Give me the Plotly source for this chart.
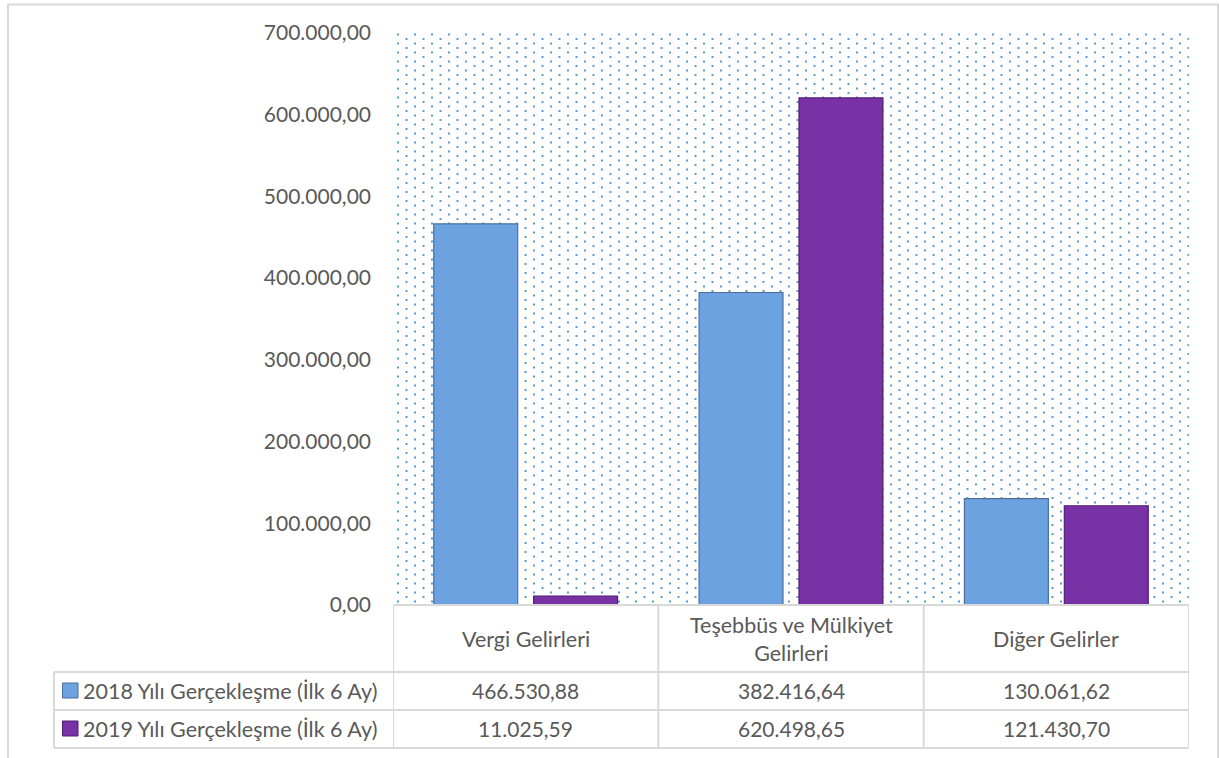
import plotly.graph_objects as go
import base64

# ---------------- data ----------------
categories = ["Vergi Gelirleri", "Teşebbüs ve Mülkiyet Gelirleri", "Diğer Gelirler"]
category_labels = ["Vergi Gelirleri", "Teşebbüs ve Mülkiyet<br>Gelirleri", "Diğer Gelirler"]
series_names = ["2018 Yılı Gerçekleşme (İlk 6 Ay)", "2019 Yılı Gerçekleşme (İlk 6 Ay)"]
values_2018 = [466530.88, 382416.64, 130061.62]
values_2019 = [11025.59, 620498.65, 121430.70]
y_ticks = [0, 100000, 200000, 300000, 400000, 500000, 600000, 700000]

# ---------------- styling ----------------
W, H = 1219, 758
L, R, T, B = 393, 30, 33, 153
PW, PH = W - L - R, H - T - B
FONT = "Lato"
TXT = "#595959"
GRID = "#d9d9d9"
colors = ["#6ca2df", "#7832a6"]
lines = ["#4a6f9c", "#4f1f70"]


def tr(v):
    s = f"{v:,.2f}"
    return s.replace(",", "#").replace(".", ",").replace("#", ".")


def px(x):
    return (x - L) / PW


def py(y):
    return (H - B - y) / PH


# dotted background pattern as svg
svg = (
    f'<svg xmlns="http://www.w3.org/2000/svg" width="{PW}" height="{PH}" viewBox="0 0 {PW} {PH}" preserveAspectRatio="none">'
    '<defs><pattern id="p" x="4" y="0" width="17" height="9" patternUnits="userSpaceOnUse">'
    '<rect x="0" y="0.5" width="2" height="2" fill="#5b9bd5"/>'
    '<rect x="8.5" y="5" width="2" height="2" fill="#5b9bd5"/>'
    '</pattern></defs>'
    f'<rect x="0" y="0" width="{PW}" height="{PH}" fill="url(#p)"/></svg>'
)
src = "data:image/svg+xml;base64," + base64.b64encode(svg.encode()).decode()

fig = go.Figure()
for name, vals, c, lc in zip(series_names, [values_2018, values_2019], colors, lines):
    fig.add_trace(go.Bar(
        x=categories, y=vals, name=name,
        marker=dict(color=c, line=dict(color=lc, width=1.2)),
        hoverinfo="skip",
    ))

shapes = []
# outer border
shapes.append(dict(type="rect", xref="paper", yref="paper",
                   x0=px(8), x1=px(1218), y0=py(770), y1=py(4.5),
                   line=dict(color=GRID, width=2), fillcolor="rgba(0,0,0,0)", layer="below"))
# table horizontal lines
shapes.append(dict(type="line", xref="paper", yref="paper", x0=px(393), x1=1,
                   y0=py(605), y1=py(605), line=dict(color=GRID, width=2)))
for yy in [672, 710, 748]:
    shapes.append(dict(type="line", xref="paper", yref="paper", x0=px(54), x1=1,
                       y0=py(yy), y1=py(yy), line=dict(color=GRID, width=2)))
# table vertical lines
for xx in [-0.5, 0.5, 1.5, 2.5]:
    shapes.append(dict(type="line", xref="x", yref="paper", x0=xx, x1=xx,
                       y0=py(605), y1=py(748), line=dict(color=GRID, width=2)))
shapes.append(dict(type="line", xref="paper", yref="paper", x0=px(54), x1=px(54),
                   y0=py(672), y1=py(748), line=dict(color=GRID, width=2)))
# legend keys
for i, (c, lc) in enumerate(zip(colors, lines)):
    yc = 690.5 + 38 * i
    shapes.append(dict(type="rect", xref="paper", yref="paper",
                       x0=px(62.5), x1=px(78), y0=py(yc + 7.5), y1=py(yc - 7.5),
                       fillcolor=c, line=dict(color=lc, width=1)))

annotations = []
for i, lab in enumerate(category_labels):
    annotations.append(dict(x=i, xref="x", y=py(638.5), yref="paper", text=lab,
                            showarrow=False, xanchor="center", yanchor="middle",
                            font=dict(family=FONT, size=21.5, color=TXT)))
for r, (name, vals) in enumerate(zip(series_names, [values_2018, values_2019])):
    yc = 690.5 + 38 * r
    annotations.append(dict(x=px(81), xref="paper", y=py(yc), yref="paper", text=name,
                            showarrow=False, xanchor="left", yanchor="middle",
                            font=dict(family=FONT, size=21.5, color=TXT)))
    for i, v in enumerate(vals):
        annotations.append(dict(x=i, xref="x", y=py(yc), yref="paper", text=tr(v),
                                showarrow=False, xanchor="center", yanchor="middle",
                                font=dict(family=FONT, size=21, color=TXT)))

fig.update_layout(
    width=W, height=H,
    margin=dict(l=L, r=R, t=T, b=B, pad=0),
    paper_bgcolor="white", plot_bgcolor="rgba(0,0,0,0)",
    separators=",.",
    barmode="group", bargap=0.247, bargroupgap=0.16,
    showlegend=False,
    xaxis=dict(range=[-0.5, 2.5], showticklabels=False, showgrid=False,
               zeroline=False, showline=False, ticks=""),
    yaxis=dict(range=[0, 700000], tickvals=y_ticks, tickformat=",.2f",
               showgrid=False, zeroline=False, showline=False, ticks="",
               ticklabelstandoff=21,
               tickfont=dict(family=FONT, size=21, color=TXT)),
    images=[dict(source=src, xref="paper", yref="paper", x=0, y=1, sizex=1, sizey=1,
                 xanchor="left", yanchor="top", sizing="stretch", layer="below")],
    shapes=shapes, annotations=annotations,
)

fig.write_html("out.html", config={"displayModeBar": False})
with open("out.html", encoding="utf-8") as f:
    html = f.read()
html = html.replace("<body>", '<body style="margin:0;padding:0;">', 1)
with open("out.html", "w", encoding="utf-8") as f:
    f.write(html)
